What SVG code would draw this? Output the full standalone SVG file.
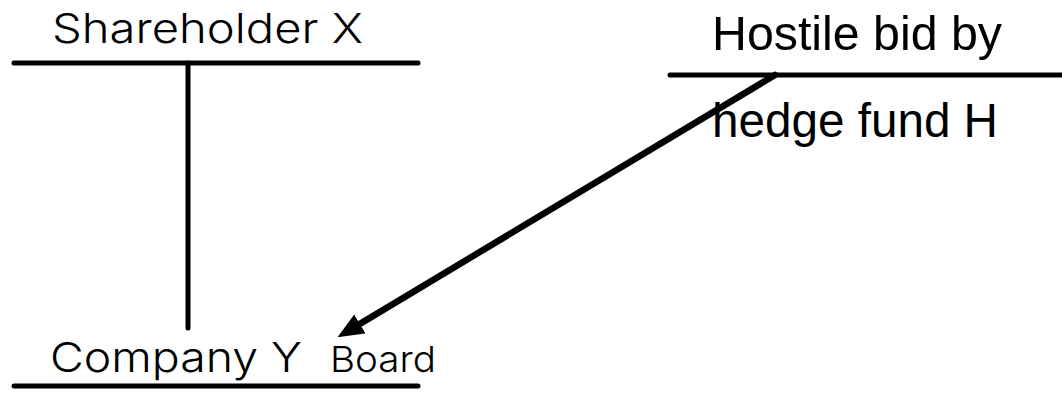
<svg xmlns="http://www.w3.org/2000/svg" width="1062" height="393" viewBox="0 0 1062 393">
<style>
.ln{stroke:#000;stroke-width:5;stroke-linecap:round;fill:none}
.arr{stroke:#000;stroke-width:6.5;stroke-linecap:round;fill:none}
.g{font-family:Inter,"Liberation Sans",Arial,sans-serif;font-weight:300;fill:#000}
.a{font-family:"Liberation Sans",Arial,sans-serif;fill:#000}
</style>
<defs>
<marker id="ah" viewBox="0 0 26 22" refX="15" refY="11" markerWidth="26" markerHeight="22" orient="auto" markerUnits="userSpaceOnUse">
<path d="M0,0 L26,11 L0,22 z" fill="#000"/>
</marker>
</defs>
<rect width="1062" height="393" fill="#fff"/>
<g id="shareholder-x">
<line class="ln" x1="14" y1="63" x2="418" y2="63"/>
<text class="g" x="52" y="43" font-size="41" textLength="311" lengthAdjust="spacingAndGlyphs">Shareholder X</text>
</g>
<g id="company-y-board">
<line class="ln" x1="14" y1="386" x2="418" y2="386"/>
<text class="g" x="50" y="372" font-size="41" textLength="252" lengthAdjust="spacingAndGlyphs">Company Y</text>
<text class="g" x="330" y="372" font-size="36" textLength="106" lengthAdjust="spacingAndGlyphs">Board</text>
</g>
<g id="hedge-fund-h">
<line class="ln" x1="670" y1="75" x2="1062" y2="75"/>
<text class="a" x="712" y="50" font-size="48" textLength="290" lengthAdjust="spacingAndGlyphs">Hostile bid by</text>
<text class="a" x="712" y="137" font-size="48" textLength="286" lengthAdjust="spacingAndGlyphs">hedge fund H</text>
</g>
<g id="connectors">
<line class="ln" x1="188" y1="63" x2="188" y2="328"/>
<line class="arr" x1="775" y1="75" x2="347" y2="331.6" marker-end="url(#ah)"/>
</g>
</svg>
